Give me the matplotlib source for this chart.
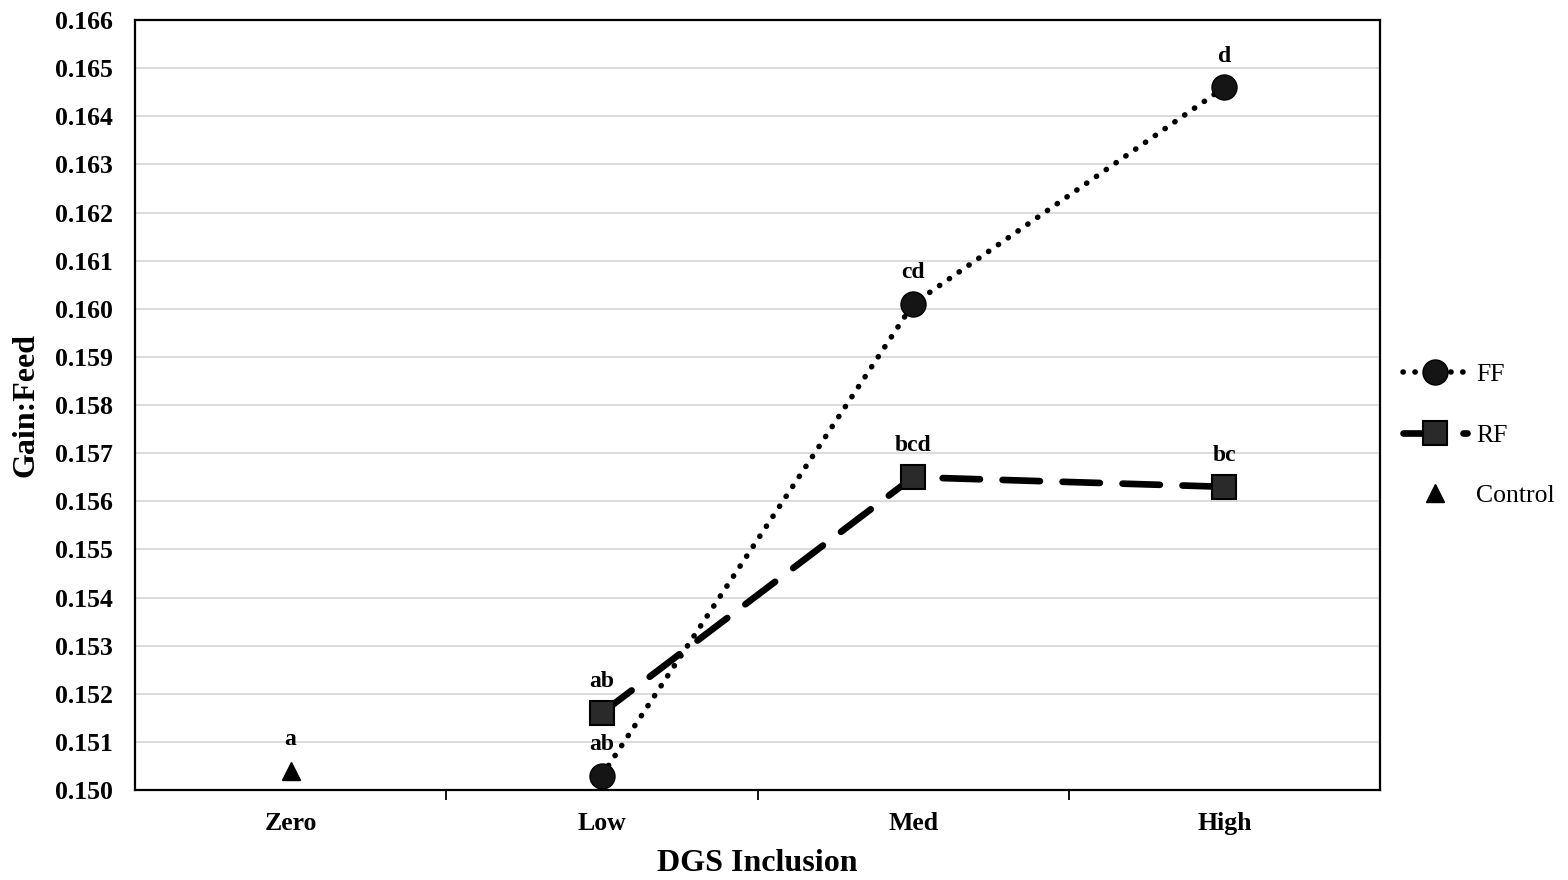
import matplotlib
matplotlib.use("Agg")
import matplotlib.pyplot as plt
from matplotlib.ticker import MultipleLocator, FixedLocator

categories = ["Zero", "Low", "Med", "High"]
ff_values = [None, 0.1503, 0.1601, 0.1646]
rf_values = [None, 0.1516, 0.1565, 0.1563]
control_values = [0.1504, None, None, None]
ff_letters = [None, "ab", "cd", "d"]
rf_letters = [None, "ab", "bcd", "bc"]
control_letters = ["a", None, None, None]

plt.rcParams["font.family"] = ["Liberation Serif", "DejaVu Serif"]

fig = plt.figure(figsize=(15.68, 8.8), dpi=100)
ax = fig.add_axes([135/1568, 1-790/880, 1245/1568, 770/880])

x = list(range(len(categories)))

def pts(vals):
    xs = [i for i, v in enumerate(vals) if v is not None]
    ys = [v for v in vals if v is not None]
    return xs, ys

fx, fy = pts(ff_values)
rx, ry = pts(rf_values)
cx, cy = pts(control_values)

ax.plot(fx, fy, color="black", lw=4.0, linestyle=(0, (0.05, 2.1)),
        dash_capstyle="round", marker="o", markersize=18,
        markerfacecolor="#151515", markeredgecolor="black", label="FF", zorder=3)
ax.plot(rx, ry, color="black", lw=4.8, linestyle=(0, (5.6, 3.4)),
        dash_capstyle="round", marker="s", markersize=17,
        markerfacecolor="#2a2a2a", markeredgecolor="black", markeredgewidth=1.5,
        label="RF", zorder=3)
ax.plot(cx, cy, color="black", lw=0, marker="^", markersize=13,
        markerfacecolor="black", markeredgecolor="black", label="Control", zorder=3)

for xs, ys, labs in [(fx, fy, [l for l in ff_letters if l]),
                     (rx, ry, [l for l in rf_letters if l]),
                     (cx, cy, [l for l in control_letters if l])]:
    for xi, yi, lab in zip(xs, ys, labs):
        ax.annotate(lab, (xi, yi), xytext=(0, 22.5), textcoords="offset points",
                    ha="center", va="center", fontsize=17, fontweight="bold")

ax.set_xlim(-0.5, 3.5)
ax.set_ylim(0.150, 0.166)
ax.yaxis.set_major_locator(MultipleLocator(0.001))
ax.yaxis.set_major_formatter(matplotlib.ticker.FormatStrFormatter("%.3f"))
ax.grid(axis="y", color="#d9d9d9", lw=1.3, zorder=0)
ax.set_axisbelow(True)

ax.set_xticks(x)
ax.set_xticklabels(categories)
ax.xaxis.set_minor_locator(FixedLocator([0.5, 1.5, 2.5]))
ax.tick_params(axis="x", which="major", length=0, pad=16, labelsize=18.5)
ax.tick_params(axis="x", which="minor", length=7, width=1.3, direction="out")
ax.tick_params(axis="y", length=0, pad=16, labelsize=18.5)
for lab in ax.get_xticklabels() + ax.get_yticklabels():
    lab.set_fontweight("bold")

for s in ax.spines.values():
    s.set_color("black")
    s.set_linewidth(1.6)

ax.set_xlabel("DGS Inclusion", fontsize=23, fontweight="bold", labelpad=10)
ax.set_ylabel("Gain:Feed", fontsize=23, fontweight="bold", labelpad=10)

ax.legend(loc="center left", bbox_to_anchor=(1.0, 0.461), frameon=False,
          fontsize=18.5, handlelength=2.5, handletextpad=0.35, labelspacing=1.45)

fig.savefig("out.png", dpi=100)
